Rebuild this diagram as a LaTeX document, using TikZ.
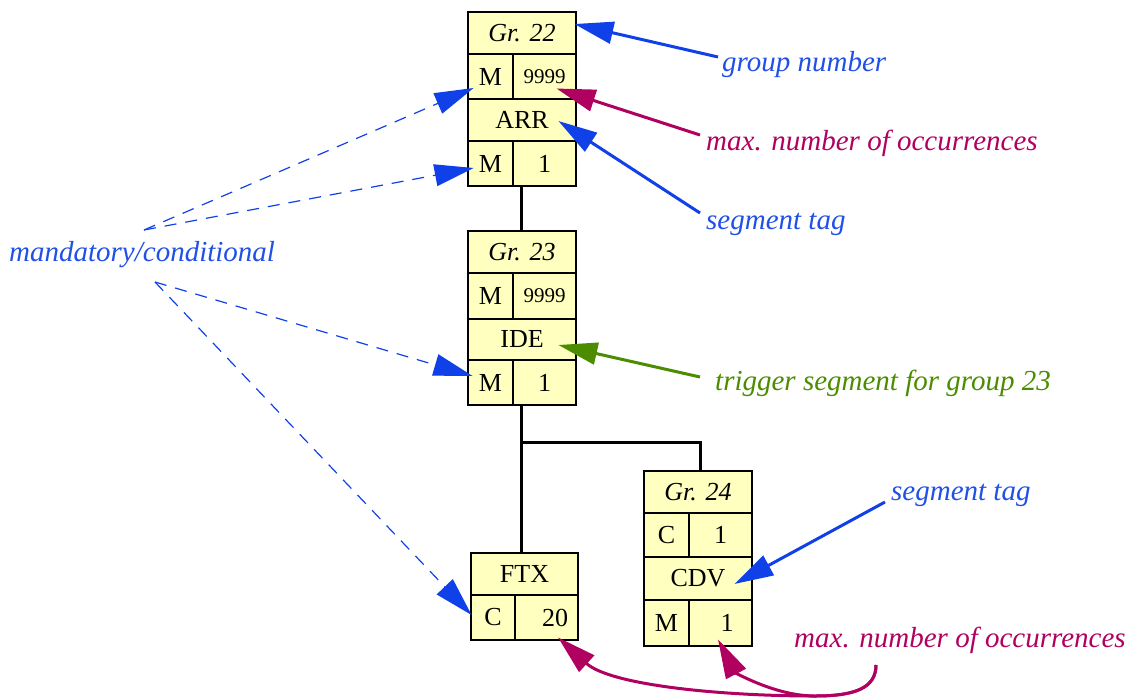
\documentclass[tikz,border=0pt]{standalone}
\usepackage{fontspec}
\setmainfont{Liberation Serif}
\usetikzlibrary{arrows.meta}
\definecolor{cellfill}{RGB}{255,255,192}
\definecolor{myblue}{RGB}{16,64,232}
\definecolor{labblue}{RGB}{32,80,230}
\definecolor{mymag}{RGB}{176,0,96}
\definecolor{mygreen}{RGB}{76,140,0}
\begin{document}
\begin{tikzpicture}[x=1pt,y=-1pt,
 cell/.style={draw=black, line width=2.8pt, fill=cellfill, inner sep=0pt, font=\fontsize{26}{28}\selectfont},
 small/.style={font=\fontsize{21}{23}\selectfont},
 lab/.style={font=\fontsize{29}{31}\selectfont\itshape, inner sep=0pt, anchor=west},
 tree/.style={draw=black, line width=3pt},
 tipshape/.style={-{Triangle[length=39pt,width=22pt]}},
 solidarr/.style={line width=3pt, tipshape},
 dasharr/.style={draw=myblue, line width=1.2pt, dash pattern=on 12pt off 9pt, tipshape}]
\useasboundingbox (0,0) rectangle (1136,697);

% box group 22
\node[cell, minimum width=108, minimum height=42] (g22h) at (522,33) {\itshape Gr. 22};
\node[cell, minimum width=45, minimum height=45] (g22m) at (490.5,76.5) {M};
\node[cell, small, minimum width=63, minimum height=45] (g22n) at (544.5,76.5) {9999};
\node[cell, minimum width=108, minimum height=42] (g22s) at (522,120) {ARR};
\node[cell, minimum width=45, minimum height=45] (g22m2) at (490.5,163.5) {M};
\node[cell, minimum width=63, minimum height=45] (g22c) at (544.5,163.5) {1};

% box group 23
\node[cell, minimum width=108, minimum height=42] (g23h) at (522,252) {\itshape Gr. 23};
\node[cell, minimum width=45, minimum height=46] (g23m) at (490.5,296) {M};
\node[cell, small, minimum width=63, minimum height=46] (g23n) at (544.5,296) {9999};
\node[cell, minimum width=108, minimum height=41] (g23s) at (522,339.5) {IDE};
\node[cell, minimum width=45, minimum height=45] (g23m2) at (490.5,382.5) {M};
\node[cell, minimum width=63, minimum height=45] (g23c) at (544.5,382.5) {1};

% FTX
\node[cell, minimum width=107, minimum height=42] (ftxs) at (524.5,574) {FTX};
\node[cell, minimum width=44, minimum height=45] (ftxc) at (493,617.5) {C};
\node[cell, minimum width=63, minimum height=45] (ftxn) at (546.5,617.5) {\hspace*{17pt}20};

% box group 24
\node[cell, minimum width=108, minimum height=42] (g24h) at (698,492) {\itshape Gr. 24};
\node[cell, minimum width=45, minimum height=44] (g24c) at (666.5,535) {C};
\node[cell, minimum width=63, minimum height=44] (g24n) at (720.5,535) {1};
\node[cell, minimum width=108, minimum height=43] (g24s) at (698,578.5) {CDV};
\node[cell, minimum width=45, minimum height=46] (g24m) at (666.5,623) {M};
\node[cell, minimum width=63, minimum height=46] (g24n2) at (720.5,623) {\hspace*{13pt}1};

% tree connectors
\draw[tree] ([xshift=10pt]g22c.south west) -- ([xshift=10pt]g22c.south west |- g23h.north);
\draw[tree] ([xshift=10pt]g23c.south west) -- ([xshift=10pt]g23c.south west |- ftxs.north);
\draw[tree] ([xshift=10pt,yshift=-36pt]g23c.south west) -| ([xshift=2pt]g24h.north);

% labels
\node[lab, text=labblue] (lgn) at (722,65) {group number};
\node[lab, text=mymag] (lmo) at (706,143) {max. number of occurrences};
\node[lab, text=labblue] (lst) at (706,224) {segment tag};
\node[lab, text=labblue] (lmc) at (9,255) {mandatory/conditional};
\node[lab, text=mygreen] (ltr) at (715,383) {trigger segment for group 23};
\node[lab, text=labblue] (lst2) at (891,495) {segment tag};
\node[lab, text=mymag] (lmo2) at (794,640) {max. number of occurrences};

% solid arrows
\draw[solidarr, myblue] ([shift={(-4,-8)}]lgn.west) -- ([shift={(-3,-9)}]g22h.east);
\draw[solidarr, mymag] ([shift={(-6,-8)}]lmo.west) -- ([shift={(12,12)}]g22n.center);
\draw[solidarr, myblue] ([shift={(-6,-11)}]lst.west) -- ([shift={(-19,1)}]g22s.east);
\draw[solidarr, mygreen] ([shift={(-15,-6)}]ltr.west) -- ([shift={(-19,5.5)}]g23s.east);
\draw[solidarr, myblue] ([shift={(-6,7)}]lst2.west) -- ([shift={(-19,5.5)}]g24s.east);

% dashed arrows
\draw[dasharr] ([shift={(135,-25)}]lmc.west) -- ([shift={(7,11.5)}]g22m.west);
\draw[dasharr] ([shift={(135,-25)}]lmc.west) -- ([shift={(7,4.5)}]g22m2.west);
\draw[dasharr] ([shift={(146,27)}]lmc.west) -- ([shift={(6,-6.5)}]g23m2.west);
\draw[dasharr] ([shift={(146,27)}]lmc.west) -- ([shift={(2,-2.5)}]ftxc.west);

% bottom curved arrows
\draw[solidarr, mymag] ([shift={(82,25)}]lmo2.west) .. controls (876,688) and (855,696) .. (815,696)
  .. controls (775,696) and (735,672) .. ([shift={(-2.5,-8)}]g24n2.south);
\draw[solidarr, mymag] ([shift={(82,25)}]lmo2.west) .. controls (876,688) and (855,696) .. (815,696)
  .. controls (720,696) and (610,685) .. ([shift={(11.5,-4)}]ftxn.south);
\end{tikzpicture}
\end{document}
